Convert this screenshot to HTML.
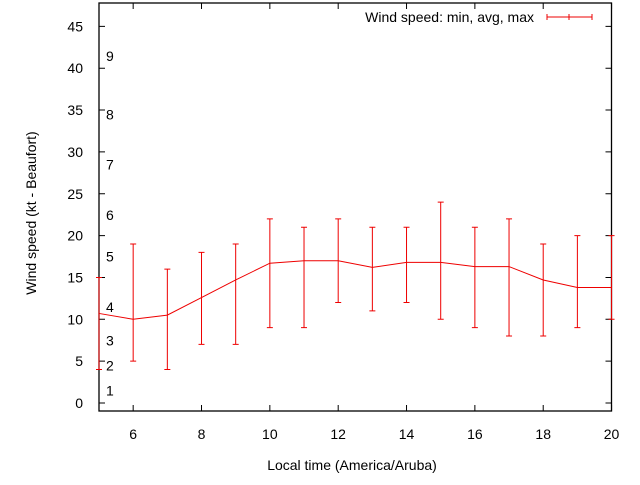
<!DOCTYPE html>
<html><head><meta charset="utf-8"><style>
body{margin:0;background:#fff}
svg text{font-family:"Liberation Sans",sans-serif;font-size:14px;fill:#000}
</style></head><body>
<svg width="640" height="480" id="c">
<rect x="99" y="3" width="512.5" height="408" fill="none" stroke="#000" stroke-width="1.3"/>
<g id="ax"></g>
<g id="ser"></g>
<text x="30" y="207" transform="rotate(-90 36 207)" text-anchor="middle">Wind speed (kt - Beaufort)</text>
<text x="352" y="470" text-anchor="middle">Local time (America/Aruba)</text>
<g>
<text x="534" y="22" text-anchor="end">Wind speed: min, avg, max</text>
<path d="M547 17H592M547 14V20M569 14V20M592 14V20" stroke="#e00" stroke-width="1"/>
</g>
</svg>
<script>
const hours=[5,6,7,8,9,10,11,12,13,14,15,16,17,18,19,20];
const avg=[10.7,10,10.5,12.6,14.7,16.7,17,17,16.2,16.8,16.8,16.3,16.3,14.7,13.8,13.8];
const mins=[4,5,4,7,7,9,9,12,11,12,10,9,8,8,9,10];
const maxs=[15,19,16,18,19,22,21,22,21,21,24,21,22,19,20,20];
const xTicks=[6,8,10,12,14,16,18,20];
const yTicks=[0,5,10,15,20,25,30,35,40,45];
const beaufort=["1","2","3","4","5","6","7","8","9"];
const beaufortKt=[1,4,7,11,17,22,28,34,41];
const NS="http://www.w3.org/2000/svg";
const X=v=>99+(v-5)*34.17, Y=v=>403-v*8.37;
function mk(t,a,p,txt){const e=document.createElementNS(NS,t);for(const k in a)e.setAttribute(k,a[k]);if(txt!=null)e.textContent=txt;p.appendChild(e);return e;}
const ax=document.getElementById('ax'), ser=document.getElementById('ser');
xTicks.forEach(v=>{
 const l=mk('path',{d:`M${X(v)} 411v-6M${X(v)} 3v6`,stroke:'#000'},ax);
 
 
 const t=mk('text',{x:X(v),y:439,'text-anchor':'middle'},ax,v);
 
 
});
yTicks.forEach(v=>{
 const l=mk('path',{d:`M99 ${Y(v)}h6M611.5 ${Y(v)}h-6`,stroke:'#000'},ax);
 
 
 const t=mk('text',{x:83,y:Y(v)+5,'text-anchor':'end'},ax,v);
 
 
});
beaufort.forEach((b,i)=>{
 const t=mk('text',{x:106,y:Y(beaufortKt[i])+1},ax,b);
 
 
});
const line=mk('polyline',{points:hours.map((h,i)=>X(h)+','+Y(avg[i])).join(' '),fill:'none',stroke:'#e00','stroke-width':1},ser);


hours.forEach((h,i)=>{
 const x=X(h),c=3;
 const e=mk('path',{d:`M${x} ${Y(mins[i])}V${Y(maxs[i])}M${x-c} ${Y(mins[i])}h${2*c}M${x-c} ${Y(maxs[i])}h${2*c}`,stroke:'#e00','stroke-width':1},ser);
 
 
});
</script>
</body></html>
